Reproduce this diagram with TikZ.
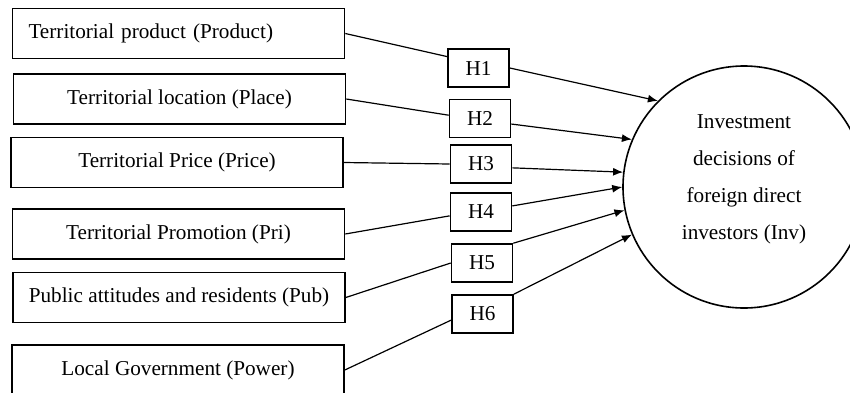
\documentclass[tikz,border=0pt]{standalone}
\usepackage{fontspec}
\setmainfont{Liberation Serif}
\usepackage{tikz}
\usetikzlibrary{arrows.meta}

\begin{document}
\begin{tikzpicture}[x=0.5pt, y=-0.5pt,
    every node/.style={font=\fontsize{10.6}{12.7}\selectfont},
    factor/.style={draw, line width=0.8pt, minimum width=166pt, minimum height=25pt, inner sep=0pt},
    hyp/.style={draw, line width=0.8pt, minimum width=30.5pt, minimum height=19pt, inner sep=0pt},
    link/.style={line width=0.6pt},
    effect/.style={line width=0.6pt, -{Latex[length=5pt, width=4pt]}}]
    \useasboundingbox (0, 0) rectangle (850, 392);
    % Factors
    \node [factor, text width=150pt, inner xsep=8pt, align=left] (product) at (178.5, 33.5) {Territorial product (Product)};
    \node [factor] (place) at (179.5, 99) {Territorial location (Place)};
    \node [factor] (price) at (177, 162.5) {Territorial Price (Price)};
    \node [factor] (promo) at (178.5, 234) {Territorial Promotion (Pri)};
    \node [factor] (public) at (179, 297.5) {Public attitudes and residents (Pub)};
    \node [factor] (power) at (178, 370) {Local Government (Power)};
    % Hypotheses
    \node [hyp] (h1) at (478.5, 68) {H1};
    \node [hyp] (h2) at (480, 118.5) {H2};
    \node [hyp] (h3) at (481, 164) {H3};
    \node [hyp] (h4) at (481, 212) {H4};
    \node [hyp] (h5) at (482, 263) {H5};
    \node [hyp] (h6) at (482.5, 314) {H6};
    % Outcome
    \node [draw, circle, line width=0.8pt, minimum size=121pt, inner sep=0pt, align=center,
        text depth=9.5pt, font=\fontsize{10.6}{18.5}\selectfont] (inv) at (744, 187)
        {Investment\\decisions of\\foreign direct\\investors (Inv)};
    % Lines
    \draw [link] (product.east) -- (h1.160);
    \draw [link] (place.east) -- (h2.174);
    \draw [link] (price.east) -- (h3.west);
    \draw [link] (promo.east) -- (h4.187);
    \draw [link] (public.east) -- (h5.west);
    \draw [link] (power.east) -- (h6.191);
    % Arrows
    \draw [effect] (h1.east) -- (inv.135);
    \draw [effect] (h2.350) -- (inv.157);
    \draw [effect] (h3.353) -- (inv.173);
    \draw [effect] (h4.11) -- (inv.180);
    \draw [effect] (h5.north east) -- (inv.191);
    \draw [effect] (h6.north east) -- (inv.203);
\end{tikzpicture}
\end{document}
